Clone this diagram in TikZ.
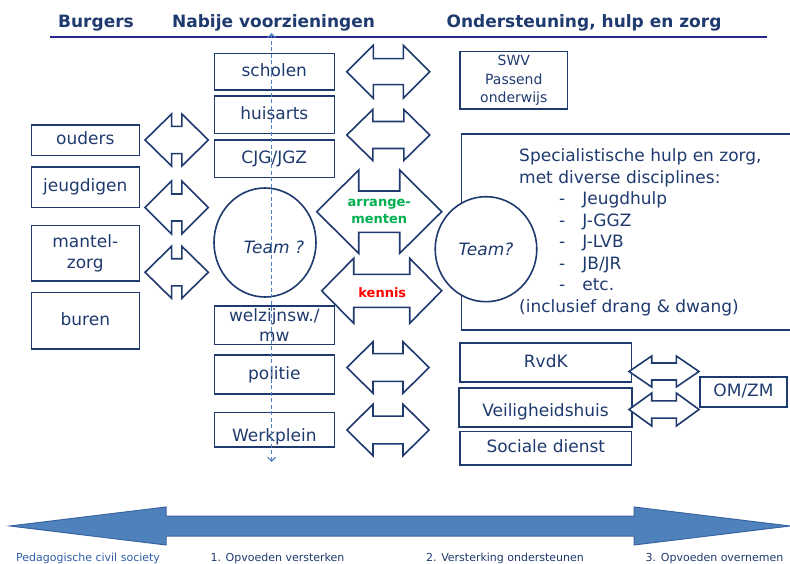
\documentclass[tikz,border=0pt]{standalone}
\usepackage{fontspec}
\setmainfont{DejaVu Sans}
\usepackage{xcolor}
\usetikzlibrary{arrows.meta, shapes.geometric}

\definecolor{navy}{HTML}{1F3A6E}
\definecolor{rulenavy}{HTML}{25258C}
\definecolor{dashblue}{HTML}{4F81BD}
\definecolor{barfill}{HTML}{4F81BD}
\definecolor{barline}{HTML}{3B65A0}
\definecolor{arrgreen}{HTML}{00B050}
\definecolor{kenred}{HTML}{FF0000}
\definecolor{civilblue}{HTML}{2E5FA8}

\newcommand{\bodysize}{\fontsize{17}{21}\selectfont}

% style, name, x, y, length, head width, shaft width, head length
\newcommand{\dubbelpijl}[8]{%
	\coordinate (#2) at (#3,#4);
	\draw[#1] (#2) ++({-#5/2},0) -- ++({#8},{-#6/2}) -- ++(0,{(#6-#7)/2}) -- ++({#5-2*#8},0) -- ++(0,{-(#6-#7)/2}) -- ++({#8},{#6/2})
		-- ++({-#8},{#6/2}) -- ++(0,{-(#6-#7)/2}) -- ++({-(#5-2*#8)},0) -- ++(0,{(#6-#7)/2}) -- cycle;}

\tikzset{
	box/.style={draw=navy, line width=1.6pt, text=navy, inner sep=0pt, align=center, font=\bodysize},
	oneline/.style={text height=12.5pt, text depth=3.5pt},
	team/.style={ellipse, draw=navy, fill=white, line width=1.6pt, text=navy, inner sep=0pt, font=\bodysize\itshape},
	pijlrand/.style={draw=navy, fill=white, line width=1.6pt, line join=miter},
	balk/.style={draw=barline, fill=barfill, line width=1pt},
	header/.style={text=navy, font=\fontsize{17}{21}\selectfont\bfseries, anchor=base, inner sep=0pt},
	phase/.style={text=navy, font=\fontsize{11}{13}\selectfont, anchor=base, inner sep=0pt},
	arrowtext/.style={font=\fontsize{13}{16.7}\selectfont\bfseries, align=center, inner sep=0pt},
}

\begin{document}
\begin{tikzpicture}[x=1pt, y=-1pt]
	\def\burgerx{85.3}
	\def\nabijx{274.3}
	\def\zorgx{545.8}
	\useasboundingbox (0,0) rectangle (790,564);

	\node[header]	(burgers)		at (96,28)		{Burgers};
	\node[header]	(nabij)			at (273.5,28)	{Nabije voorzieningen};
	\node[header]	(ondersteuning)	at (584,28)		{Ondersteuning, hulp en zorg};
	\coordinate (rulestart) at (50,37);
	\coordinate (ruleend) at (767,37);
	\draw[rulenavy, line width=1.6pt]	(rulestart) -- (ruleend);

	\node[box, oneline, minimum width=108pt, minimum height=30.7pt]	(ouders)		at (\burgerx,140.3)	{ouders};
	\node[box, oneline, minimum width=108pt, minimum height=40.4pt]	(jeugdigen)		at (\burgerx,187.5)	{jeugdigen};
	\node[box, minimum width=108pt, minimum height=55pt]			(mantelzorg)	at (\burgerx,253.2)	{mantel-\\zorg};
	\node[box, oneline, minimum width=108pt, minimum height=56.3pt]	(buren)			at (\burgerx,320.8)	{buren};

	\dubbelpijl{pijlrand}{pijlouders}{176.7}{140}{63.3}{52}{27.3}{26.5}
	\dubbelpijl{pijlrand}{pijljeugd}{176.7}{207.5}{63.3}{53}{27}{26.5}
	\dubbelpijl{pijlrand}{pijlmantel}{176.7}{272.3}{63.3}{52}{27}{26.5}

	\node[box, oneline, minimum width=120pt, minimum height=36.7pt]	(scholen)	at (\nabijx,71.7)	{scholen};
	\node[box, oneline, minimum width=120pt, minimum height=37.3pt]	(huisarts)	at (\nabijx,114.7)	{huisarts};
	\node[box, oneline, minimum width=120pt, minimum height=37.7pt]	(cjg)		at (\nabijx,158.8)	{CJG/JGZ};
	\node[team, minimum width=102pt, minimum height=109pt, label={[text=navy, font=\bodysize\itshape, xshift=9pt, yshift=-4.8pt]center:Team ?}]	(teamnabij)	at (265,242.5)	{};
	\node[box, minimum width=120pt, minimum height=38.7pt, font=\fontsize{17}{20}\selectfont]	(welzijn)	at (\nabijx,325.3)	{welzijnsw./\\mw};
	\node[box, oneline, minimum width=120pt, minimum height=39pt]	(politie)	at (\nabijx,374.5)	{politie};
	\node[box, oneline, text height=25.9pt, minimum width=120pt, minimum height=34.3pt]	(werkplein)	at (\nabijx,429.8)	{Werkplein};

	\dubbelpijl{pijlrand}{pijlscholen}{388.3}{71.7}{83}{53}{26}{26.5}
	\dubbelpijl{pijlrand}{pijlhuisarts}{388.3}{135}{83}{51}{27}{26}
	\dubbelpijl{pijlrand}{arrangementen}{379.2}{211.7}{125}{83.3}{41.3}{42}
	\dubbelpijl{pijlrand}{kennis}{381.7}{290.8}{120}{65}{33}{32}
	\dubbelpijl{pijlrand}{pijlpolitie}{388}{367.5}{82}{51.6}{27.7}{26}
	\dubbelpijl{pijlrand}{pijlwerkplein}{388}{430}{82}{51.6}{27.7}{26}
	\node[arrowtext, text=arrgreen]	(arrangetekst)	at (arrangementen)	{arrange-\\menten};
	\node[arrowtext, text=kenred]	(kennistekst)	at ([xshift=0.6pt, yshift=-1.9pt]kennis)	{kennis};

	\node[box, minimum width=107.7pt, minimum height=57.6pt, font=\fontsize{14}{18.7}\selectfont]	(swv)	at (513.8,80.5)	{SWV\\Passend\\onderwijs};
	\node[box, minimum width=340pt, minimum height=196pt, anchor=north west]	(specialistisch)	at (460.5,133.3)	{};
	\node[team, minimum width=101.6pt, minimum height=105pt]	(teamzorg)	at (486,249.2)	{Team?};
	\node[text=navy, font=\fontsize{17}{21.5}\selectfont, align=left, anchor=west, inner sep=0pt]	(disciplines)	at (519,232.2)
		{Specialistische hulp en zorg,\\met diverse disciplines:\\\hspace*{40pt}-\hspace*{17pt}Jeugdhulp\\\hspace*{40pt}-\hspace*{17pt}J-GGZ\\\hspace*{40pt}-\hspace*{17pt}J-LVB\\\hspace*{40pt}-\hspace*{17pt}JB/JR\\\hspace*{40pt}-\hspace*{17pt}etc.\\(inclusief drang \& dwang)};

	\node[box, oneline, minimum width=171.7pt, minimum height=39pt]	(rvdk)		at (\zorgx,362.5)	{RvdK};
	\node[box, oneline, text height=21.5pt, minimum width=173pt, minimum height=39pt]	(veiligheidshuis)	at (545.5,407.2)	{Veiligheidshuis};
	\node[box, oneline, minimum width=171.7pt, minimum height=33.3pt]	(sociale)	at (\zorgx,448.3)	{Sociale dienst};
	\node[box, oneline, minimum width=87pt, minimum height=30pt]		(omzm)		at (743.5,391.7)	{OM/ZM};

	\dubbelpijl{pijlrand}{pijlrvdk}{664}{371.5}{70}{31}{17}{22.7}
	\dubbelpijl{pijlrand}{pijlveilig}{664}{409.5}{70}{33}{17.3}{22.7}

	\coordinate (dashtop) at (271.5,33);
	\coordinate (dashbot) at (271.5,462);
	\draw[dashblue, dash pattern=on 4pt off 2.5pt, line width=1.1pt, {Straight Barb[length=4pt, width=8pt]}-{Straight Barb[length=4pt, width=8pt]}]	(dashtop) -- (dashbot);

	\dubbelpijl{balk}{spectrum}{400}{526}{780}{38}{20}{156}
	\node[phase, text=civilblue]	(civil)			at (88,561)		{Pedagogische civil society};
	\node[phase]					(versterken)	at (277.5,561)	{1. Opvoeden versterken};
	\node[phase]					(ondersteunen)	at (505,561)	{2. Versterking ondersteunen};
	\node[phase]					(overnemen)		at (714.5,561)	{3. Opvoeden overnemen};
\end{tikzpicture}
\end{document}
